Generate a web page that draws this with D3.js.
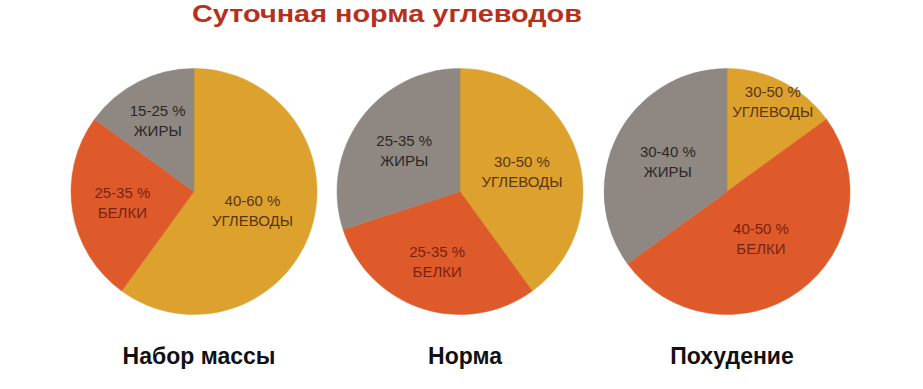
<!DOCTYPE html>
<html>
<head>
<meta charset="utf-8">
<script src="https://cdn.jsdelivr.net/npm/d3@7"></script>
<style>
  body { margin: 0; background: #fff; }
  svg { display: block; font-family: "Liberation Sans", Arial, sans-serif; }
</style>
</head>
<body>
<div id="chart"></div>
<script>
const width = 923;
const height = 389;

// data
const nutrients = ["УГЛЕВОДЫ", "БЕЛКИ", "ЖИРЫ"];
const goals = ["Набор массы", "Норма", "Похудение"];
const shares = [
    [60, 25, 15],
    [40, 30, 30],
    [15, 50, 35]
];
const ranges = [
    ["40-60 %", "25-35 %", "15-25 %"],
    ["30-50 %", "25-35 %", "25-35 %"],
    ["30-50 %", "40-50 %", "30-40 %"]
];

// layout
const centersX = [194, 460, 727];
const centerY = 191.5;
const radius = 123;
const labelRadius = [
    [0.50, 0.59, 0.65],
    [0.53, 0.60, 0.56],
    [0.82, 0.47, 0.54]
];
const fills = ["#dda22e", "#df5a2a", "#8e8782"];
const textColors = ["#5a3510", "#7a2210", "#2b2725"];

const svg = d3.select("#chart")
    .append("svg")
    .attr("width", width)
    .attr("height", height);

svg.append("text")
    .attr("x", 387)
    .attr("y", 22)
    .attr("text-anchor", "middle")
    .attr("font-size", 23)
    .attr("font-weight", "bold")
    .attr("fill", "#b8301b")
    .attr("textLength", 390)
    .attr("lengthAdjust", "spacingAndGlyphs")
    .text("Суточная норма углеводов");

const pie = d3.pie().sort(null).value(d => d);
const arc = d3.arc().innerRadius(0).outerRadius(radius);

goals.forEach((goal, i) => {
    const g = svg.append("g")
        .attr("transform", `translate(${centersX[i]}, ${centerY})`);

    const slices = pie(shares[i]);

    g.selectAll("path")
        .data(slices)
        .enter()
        .append("path")
        .attr("d", arc)
        .attr("fill", (d, j) => fills[j])
        .attr("stroke", (d, j) => fills[j])
        .attr("stroke-width", 0.5);

    const labels = g.selectAll("text.lbl")
        .data(slices)
        .enter()
        .append("text")
        .attr("class", "lbl")
        .attr("text-anchor", "middle")
        .attr("font-size", 15)
        .attr("fill", (d, j) => textColors[j])
        .attr("transform", (d, j) => {
            const r = radius * labelRadius[i][j];
            const [x, y] = d3.arc().innerRadius(r).outerRadius(r).centroid(d);
            return `translate(${x}, ${y})`;
        });

    labels.append("tspan")
        .attr("x", 0)
        .attr("y", -4.7)
        .text((d, j) => ranges[i][j]);

    labels.append("tspan")
        .attr("x", 0)
        .attr("y", 15.3)
        .text((d, j) => nutrients[j]);

    svg.append("text")
        .attr("x", centersX[i] + 5)
        .attr("y", 364)
        .attr("text-anchor", "middle")
        .attr("font-size", 23)
        .attr("font-weight", "bold")
        .attr("fill", "#111")
        .text(goal);
});
</script>
</body>
</html>
